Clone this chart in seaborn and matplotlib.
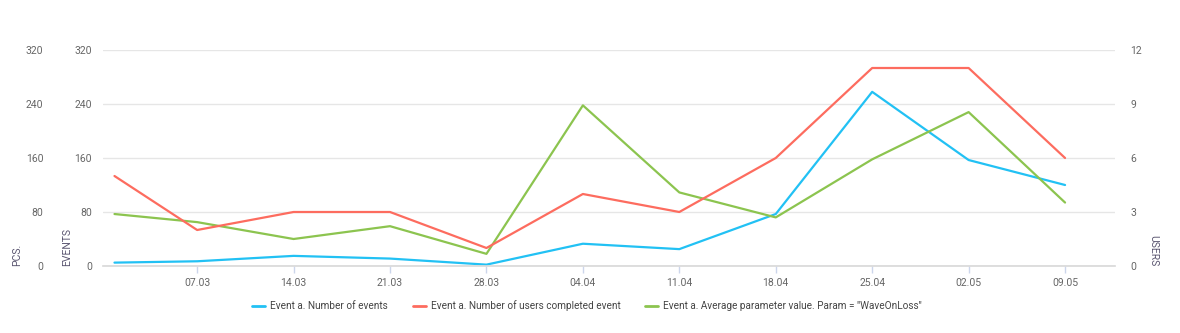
import matplotlib
matplotlib.use("Agg")
import matplotlib.pyplot as plt
import matplotlib.dates as mdates
import seaborn as sns
import pandas as pd
import numpy as np

dates = ["2021-03-01", "2021-03-07", "2021-03-14", "2021-03-21", "2021-03-28",
         "2021-04-04", "2021-04-11", "2021-04-18", "2021-04-25", "2021-05-02", "2021-05-09"]
events = [5, 7, 15, 11, 2, 33, 25, 77, 258, 157, 120]
users = [5, 2, 3, 3, 1, 4, 3, 6, 11, 11, 6]
avg_param = [77, 65, 40, 59, 18, 238, 109, 72, 158, 228, 94]

names = ["Event a. Number of events",
         "Event a. Number of users completed event",
         'Event a. Average parameter value. Param = "WaveOnLoss"']
colors = ["#22c1f4", "#fd6c5f", "#8cc44f"]

left_ticks = [0, 80, 160, 240, 320]
right_ticks = [0, 3, 6, 9, 12]

df = pd.DataFrame({"date": pd.to_datetime(dates), "events": events,
                   "users": users, "avg": avg_param})

sns.set_theme(style="white")
plt.rcParams["font.family"] = ["Roboto", "DejaVu Sans"]

W, H = 1180, 333
fig = plt.figure(figsize=(W / 100, H / 100), dpi=100)
L, R, T, B = 103, 1115, 50, 266
ax = fig.add_axes([L / W, 1 - B / H, (R - L) / W, (B - T) / H])
ax_pcs = ax.twinx()
ax_users = ax.twinx()

tick_color = "#666666"
fs = 7.5

sns.lineplot(data=df, x="date", y="events", ax=ax, color=colors[0], lw=1.6, legend=False)
sns.lineplot(data=df, x="date", y="users", ax=ax_users, color=colors[1], lw=1.6, legend=False)
sns.lineplot(data=df, x="date", y="avg", ax=ax_pcs, color=colors[2], lw=1.6, legend=False)

for a in (ax, ax_pcs):
    a.set_ylim(0, 320)
ax_users.set_ylim(0, 12)

x0 = pd.Timestamp("2021-02-28") + pd.Timedelta(hours=4)
x1 = pd.Timestamp("2021-05-12") + pd.Timedelta(hours=15)
ax.set_xlim(x0, x1)

# inner left axis (EVENTS)
ax.set_yticks(left_ticks)
ax.yaxis.grid(True, color="#e6e6e6", lw=1)
ax.tick_params(axis="y", length=0, pad=8, labelsize=fs, labelcolor=tick_color)
ax.set_ylabel("")
ax.set_xlabel("")

# outer left axis (PCS.)
ax_pcs.yaxis.set_ticks_position("left")
ax_pcs.yaxis.set_label_position("left")
ax_pcs.set_yticks(left_ticks)
ax_pcs.tick_params(axis="y", length=0, pad=43, labelsize=fs, labelcolor=tick_color)
ax_pcs.set_ylabel("")

# right axis (USERS)
ax_users.set_yticks(right_ticks)
ax_users.tick_params(axis="y", length=0, pad=11, labelsize=fs, labelcolor=tick_color)
ax_users.set_ylabel("")

for a in (ax, ax_pcs, ax_users):
    for s in ("top", "left", "right", "bottom"):
        a.spines[s].set_visible(False)
ax.spines["bottom"].set_visible(True)
ax.spines["bottom"].set_color("#d8d8d8")
ax.spines["bottom"].set_linewidth(1.2)

xt = pd.date_range("2021-03-07", "2021-05-09", freq="7D")
ax.set_xticks(xt)
ax.xaxis.set_major_formatter(mdates.DateFormatter("%d.%m"))
ax.tick_params(axis="x", length=5, width=1, color="#ccd6eb", pad=4, labelsize=fs,
               labelcolor=tick_color, bottom=True)

lab_color = "#5a5570"
fig.text(17 / W, 1 - B / H, "PCS.", rotation=90, ha="center", va="bottom", fontsize=fs, color=lab_color)
fig.text(67 / W, 1 - B / H, "EVENTS", rotation=90, ha="center", va="bottom", fontsize=fs, color=lab_color)
fig.text(1153 / W, 1 - B / H, "USERS", rotation=270, ha="center", va="bottom", fontsize=fs, color=lab_color)

from matplotlib.lines import Line2D
handles = [Line2D([0], [0], color=c, lw=2) for c in colors]
fig.legend(handles, names, loc="center", bbox_to_anchor=(587 / W, 1 - 306 / H), ncol=3,
           frameon=False, fontsize=7.2, labelcolor="#444444", handlelength=1.3,
           handletextpad=0.5, columnspacing=2.5)

fig.savefig("out.png", dpi=100)
